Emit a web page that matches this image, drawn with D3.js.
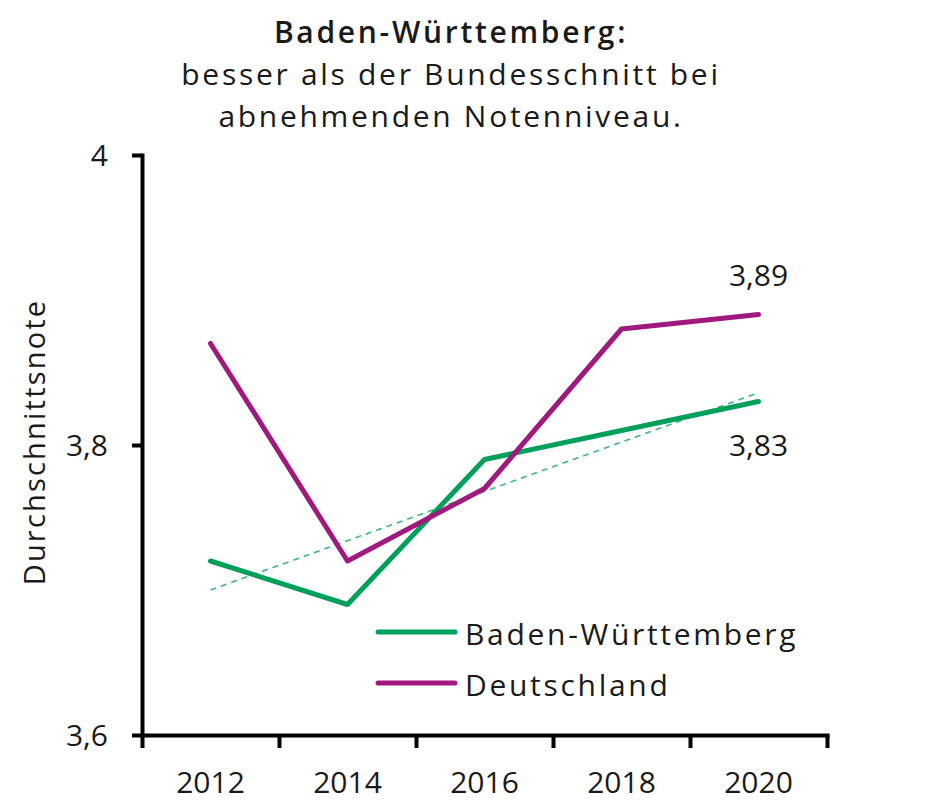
<!DOCTYPE html>
<html>
<head>
<meta charset="utf-8">
<script src="https://cdn.jsdelivr.net/npm/d3@7"></script>
<style>
  body { margin: 0; background: #fff; }
  svg text { font-family: "Open Sans", sans-serif; fill: #1a1a1a; }
</style>
</head>
<body>
<svg id="chart" width="926" height="809"></svg>
<script>
// data
const years = ["2012", "2014", "2016", "2018", "2020"];
const bwValues = [3.72, 3.69, 3.79, 3.81, 3.83];
const deValues = [3.87, 3.72, 3.77, 3.88, 3.89];
const yTicks = [3.6, 3.8, 4];
const seriesNames = ["Baden-Württemberg", "Deutschland"];
const titleLines = ["Baden-Württemberg:", "besser als der Bundesschnitt bei", "abnehmenden Notenniveau."];

const green = "#00a05a";
const purple = "#a0197e";

const svg = d3.select("#chart");
const margin = { top: 155, right: 99, bottom: 74, left: 142 };
const width = 926, height = 809;

const de = d3.formatLocale({ decimal: ",", thousands: ".", grouping: [3], currency: ["", "€"] });
const fmt = de.format("~g");

const x = d3.scaleBand().domain(years).range([margin.left, width - margin.right]);
// tick marks sit between the year bands
const xEdges = d3.scaleLinear().domain([0, years.length]).range([margin.left, width - margin.right]);
const y = d3.scaleLinear().domain([3.6, 4]).range([height - margin.bottom, margin.top]);

const cx = d => x(d) + x.bandwidth() / 2;

// title
svg.append("g")
  .selectAll("text")
  .data(titleLines)
  .enter()
  .append("text")
  .attr("x", 451)
  .attr("y", (d, i) => 43 + i * 42)
  .attr("text-anchor", "middle")
  .style("font-size", "30px")
  .style("letter-spacing", "2.7px")
  .style("font-weight", (d, i) => i === 0 ? "600" : "400")
  .text(d => d);

// trend line for Baden-Württemberg (least squares)
const idx = bwValues.map((_, i) => i);
const mx = d3.mean(idx), my = d3.mean(bwValues);
const slope = d3.sum(idx, i => (i - mx) * (bwValues[i] - my)) / d3.sum(idx, i => (i - mx) ** 2);
const icpt = my - slope * mx;
const trendEnds = [0, years.length - 1];

svg.append("line")
  .attr("x1", cx(years[trendEnds[0]]))
  .attr("y1", y(icpt + slope * trendEnds[0]))
  .attr("x2", cx(years[trendEnds[1]]))
  .attr("y2", y(icpt + slope * trendEnds[1]))
  .attr("stroke", "#3cb878")
  .attr("stroke-width", 1.6)
  .attr("stroke-dasharray", "6,5");

const line = d3.line()
  .x((d, i) => cx(years[i]))
  .y(d => y(d));

[[bwValues, green], [deValues, purple]].forEach(([vals, col]) => {
  svg.append("path")
    .datum(vals)
    .attr("d", line)
    .attr("fill", "none")
    .attr("stroke", col)
    .attr("stroke-width", 5)
    .attr("stroke-linejoin", "round")
    .attr("stroke-linecap", "round");
});

// end labels
const last = years.length - 1;
svg.append("text")
  .attr("x", cx(years[last]))
  .attr("y", y(deValues[last]) - 29)
  .attr("text-anchor", "middle")
  .style("font-size", "30px")
  .text(fmt(deValues[last]));

svg.append("text")
  .attr("x", cx(years[last]))
  .attr("y", y(bwValues[last]) + 54)
  .attr("text-anchor", "middle")
  .style("font-size", "30px")
  .text(fmt(bwValues[last]));

// axes
const yAxis = svg.append("g")
  .attr("transform", `translate(${margin.left},0)`)
  .call(d3.axisLeft(y).tickValues(yTicks).tickFormat(fmt).tickSize(10).tickSizeOuter(0).tickPadding(24));

const xAxisTicks = svg.append("g")
  .attr("transform", `translate(0,${height - margin.bottom})`)
  .call(d3.axisBottom(xEdges).tickValues(d3.range(years.length + 1)).tickFormat("").tickSize(13).tickSizeOuter(0));

const xAxisLabels = svg.append("g")
  .attr("transform", `translate(0,${height - margin.bottom})`)
  .call(d3.axisBottom(x).tickSize(0).tickPadding(37));
xAxisLabels.select(".domain").remove();

[yAxis, xAxisTicks].forEach(g => {
  g.select(".domain").attr("stroke", "#000").attr("stroke-width", 4).attr("stroke-linecap", "square");
  g.selectAll(".tick line").attr("stroke", "#000").attr("stroke-width", 4);
});
svg.selectAll(".tick text")
  .style("font-family", "'Open Sans', sans-serif")
  .style("font-size", "30px")
  .attr("fill", "#1a1a1a");
yAxis.selectAll(".tick text").attr("dy", "0.36em");

// y axis title
svg.append("text")
  .attr("transform", "translate(45,442) rotate(-90)")
  .attr("text-anchor", "middle")
  .style("font-size", "29px")
  .style("letter-spacing", "2.2px")
  .text("Durchschnittsnote");

// legend
const legend = svg.append("g")
  .selectAll("g")
  .data(seriesNames)
  .enter()
  .append("g")
  .attr("transform", (d, i) => `translate(378,${632 + i * 51})`);

legend.append("line")
  .attr("x1", 0).attr("x2", 77)
  .attr("stroke", (d, i) => i === 0 ? green : purple)
  .attr("stroke-width", 5)
  .attr("stroke-linecap", "round");

legend.append("text")
  .attr("x", 87)
  .attr("y", 13)
  .style("font-size", "30px")
  .style("letter-spacing", "2.7px")
  .text(d => d);
</script>
</body>
</html>
